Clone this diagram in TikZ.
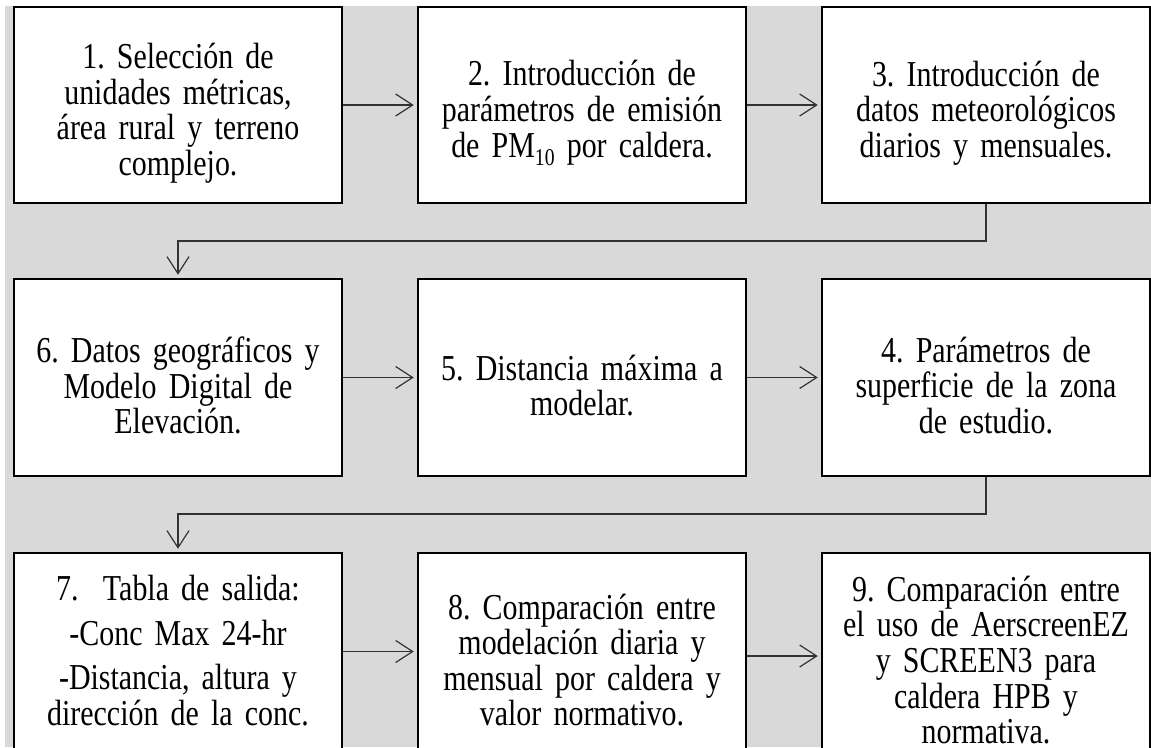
\documentclass[tikz,border=0pt]{standalone}
\usepackage{fontspec}
\setmainfont{Liberation Serif}
\newfontfamily\boxfont[FakeStretch=0.82]{Liberation Serif}
\newcommand{\boxtextfont}{\boxfont\fontsize{36.5}{35.6}\selectfont\fontdimen2\font=7pt\fontdimen3\font=0pt\fontdimen4\font=0pt\relax}
\usetikzlibrary{arrows.meta}
\definecolor{bggray}{HTML}{D9D9D9}
\definecolor{lineg}{HTML}{333333}
\frenchspacing
\begin{document}
\begin{tikzpicture}[x=1pt,y=1pt,
 box/.style={draw=black, line width=2.5pt, fill=white, minimum width=328pt, inner sep=0pt},
 txt/.style={text width=326pt, align=center, inner sep=0pt, font=\boxtextfont},
 conn/.style={draw=lineg, line width=1.2pt, -{Straight Barb[length=17pt,width=22pt]}, shorten >=3pt}]
\useasboundingbox (0,0) rectangle (1151,-747);
\fill[bggray] (5,-6) rectangle (1151,-747);
% boxes
\node[box, minimum height=196pt] (b1) at (178,-105) {};
\node[box, minimum height=196pt] (b2) at (582,-105) {};
\node[box, minimum height=196pt] (b3) at (986,-105) {};
\node[box, minimum height=197pt] (b6) at (178,-377.5) {};
\node[box, minimum height=197pt] (b5) at (582,-377.5) {};
\node[box, minimum height=197pt] (b4) at (986,-377.5) {};
\node[box, minimum height=197pt] (b7) at (178,-651.5) {};
\node[box, minimum height=216pt] (b8) at (582,-661) {};
\node[box, minimum height=222pt] (b9) at (986,-664) {};
% texts
\node[txt] (t1) at ([yshift=-8pt]b1.center) {1. Selección de\\unidades métricas,\\área rural y terreno\\complejo.};
\node[txt] (t2) at ([yshift=-8pt]b2.center) {2. Introducción de\\parámetros de emisión\\de PM\raisebox{-8pt}{\fontsize{24}{24}\selectfont 10} por caldera.};
\node[txt] (t3) at ([yshift=-8pt]b3.center) {3. Introducción de\\datos meteorológicos\\diarios y mensuales.};
\node[txt] (t6) at ([yshift=-8pt]b6.center) {6. Datos geográficos y\\Modelo Digital de\\Elevación.};
\node[txt] (t5) at ([yshift=-8pt]b5.center) {5. Distancia máxima a\\modelar.};
\node[txt] (t4) at ([yshift=-8pt]b4.center) {4. Parámetros de\\superficie de la zona\\de estudio.};
\node[txt] (t7) at ([yshift=1pt]b7.center) {7.\ \ Tabla de salida:\\[9pt]-Conc Max 24-hr\\[9pt]-Distancia, altura y\\dirección de la conc.};
\node[txt] (t8) at ([yshift=1pt]b8.center) {8. Comparación entre\\modelación diaria y\\mensual por caldera y\\valor normativo.};
\node[txt] (t9) at ([yshift=4pt]b9.center) {9. Comparación entre\\el uso de AerscreenEZ\\y SCREEN3 para\\caldera HPB y\\normativa.};
% jog coordinates
\coordinate (j1) at (0,-241);
\coordinate (j2) at (0,-514);
% connectors
\draw[conn] (b1) -- (b2);
\draw[conn] (b2) -- (b3);
\draw[conn] (b3.south) -- (b3.south |- j1) -| (b6.north);
\draw[conn] (b6) -- (b5);
\draw[conn] (b5) -- (b4);
\draw[conn] (b4.south) -- (b4.south |- j2) -| (b7.north);
\draw[conn] (b7.east) -- (b7.east -| b8.west);
\draw[conn] ([yshift=5pt]b8.east) -- ([yshift=5pt]b8.east -| b9.west);
\end{tikzpicture}
\end{document}
